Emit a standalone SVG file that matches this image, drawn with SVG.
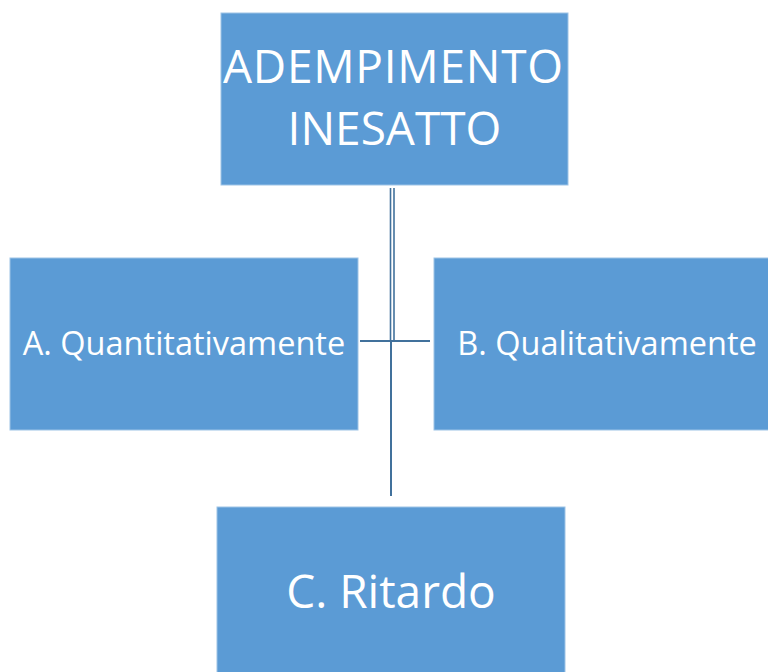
<svg xmlns="http://www.w3.org/2000/svg" width="768" height="672" viewBox="0 0 768 672">
<style>
.box{fill:#5B9BD5;stroke:#9DC3E6;stroke-width:1}
.t{fill:#fff;font-family:"Open Sans","Liberation Sans",sans-serif;text-anchor:middle}
.c{stroke:#41719C;fill:none}
</style>
<rect width="768" height="672" fill="#fff"/>
<g id="connectors">
<line class="c" x1="390.5" y1="188" x2="390.5" y2="342" stroke-width="1.6"/>
<line class="c" x1="394" y1="188" x2="394" y2="342" stroke-width="1.6"/>
<line class="c" x1="391" y1="340" x2="391" y2="496" stroke-width="2"/>
<line class="c" x1="360" y1="341" x2="430" y2="341" stroke-width="2"/>
</g>
<g id="node-top">
<rect class="box" x="221" y="13" width="347" height="172"/>
<text class="t" x="393" y="83" font-size="46" textLength="340" lengthAdjust="spacing">ADEMPIMENTO</text>
<text class="t" x="394.5" y="145" font-size="46">INESATTO</text>
</g>
<g id="node-a">
<rect class="box" x="10" y="258" width="348" height="172"/>
<text class="t" x="184" y="355" font-size="32.5">A. Quantitativamente</text>
</g>
<g id="node-b">
<rect class="box" x="434" y="258" width="340" height="172"/>
<text class="t" x="607" y="355" font-size="32.5">B. Qualitativamente</text>
</g>
<g id="node-c">
<rect class="box" x="217" y="507" width="348" height="175"/>
<text class="t" x="391" y="608" font-size="46">C. Ritardo</text>
</g>
</svg>
